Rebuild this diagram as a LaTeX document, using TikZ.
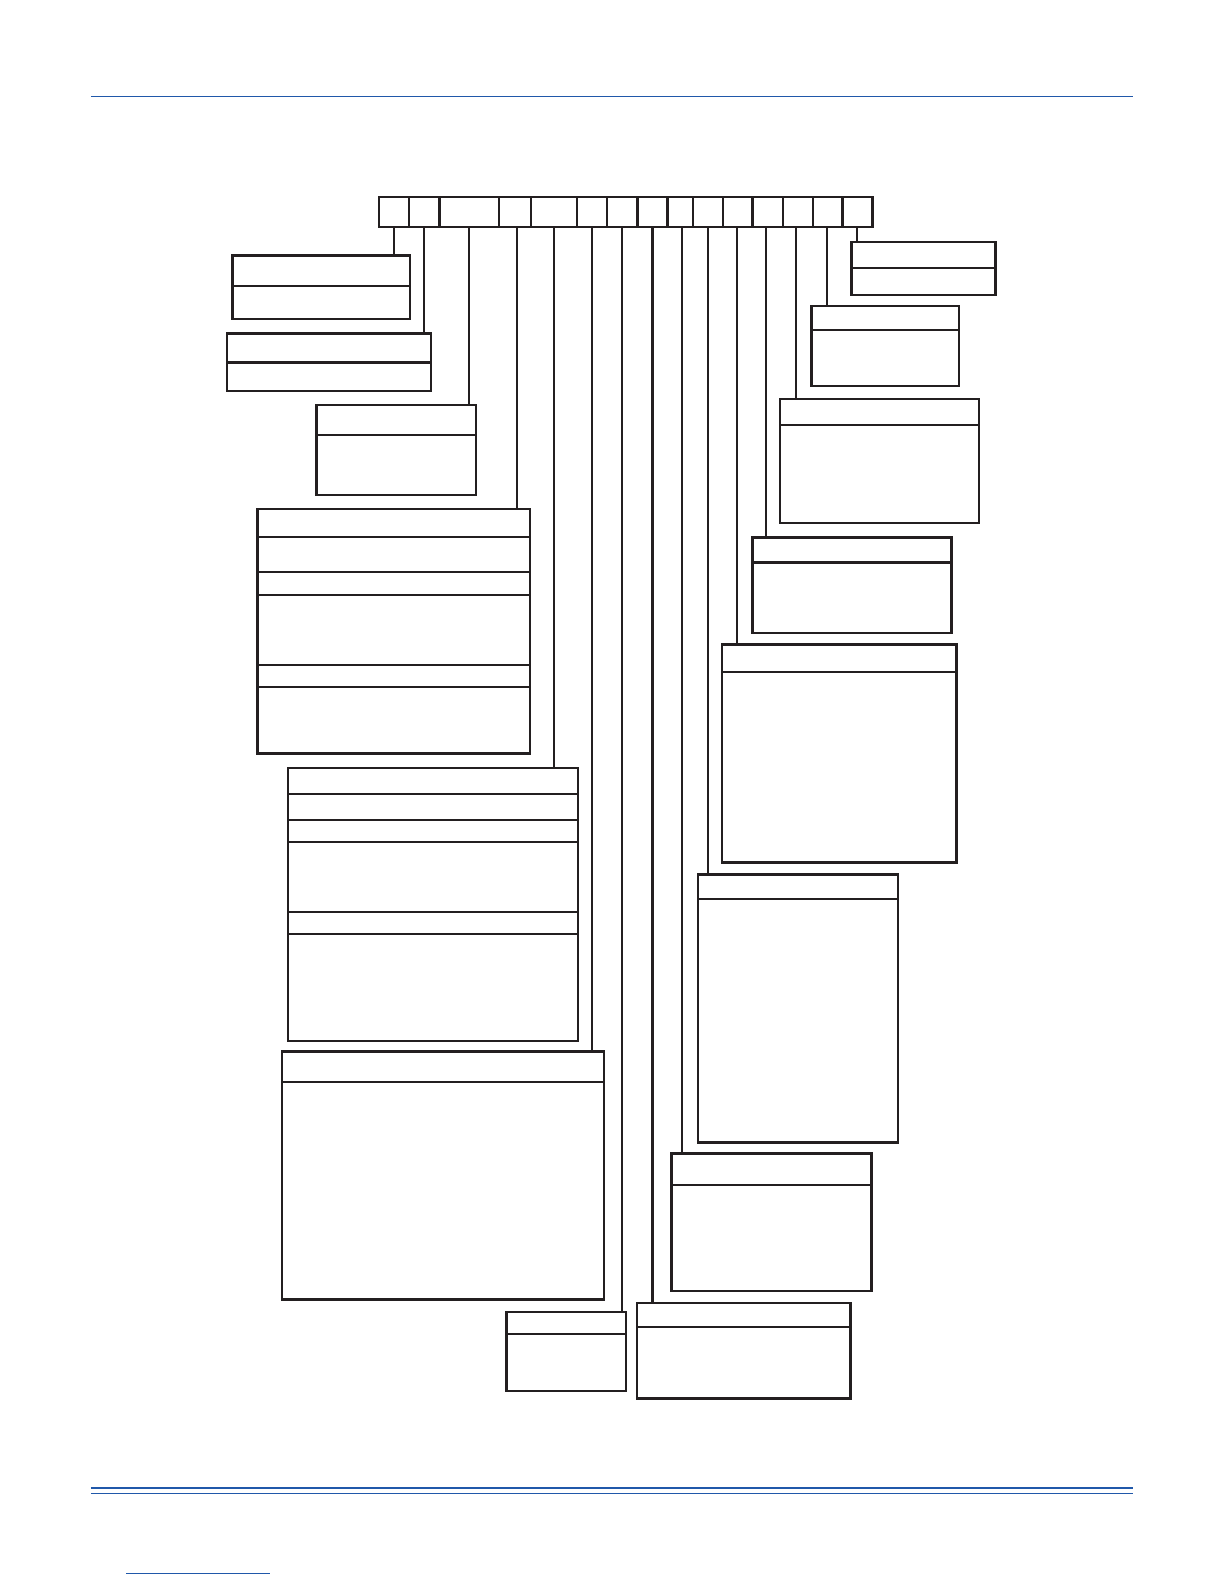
\documentclass[tikz,border=0pt]{standalone}
\usetikzlibrary{fit,calc}
\definecolor{ink}{RGB}{35,31,32}
\definecolor{rule}{RGB}{32,88,170}
\tikzset{
  boxst/.style={draw=ink, line width=2.4pt, inner sep=0pt, outer sep=0pt, fill=none},
  cellst/.style={draw=ink, line width=2.4pt, inner sep=0pt, outer sep=0pt},
  divst/.style={draw=ink, line width=2.2pt},
  conn/.style={draw=ink, line width=2.2pt},
  rulest/.style={draw=rule},
}
\newcommand\mkbox[5]{\node[boxst, fit={(#2,#3) (#4,#5)}] (#1) {};}
\newcommand\mkcell[3]{\node[cellst, fit={(#2,195) (#3,225)}] (#1) {};}
\newcommand\mkdiv[2]{\draw[divst] (#1.west |- 0,#2) -- (#1.east |- 0,#2);}
\newcommand\mkconn[3]{\draw[conn] ($(#1.south)+(#3,0)$) -- ($(#1.south |- #2.north)+(#3,0)$);}
\begin{document}
\begin{tikzpicture}[x=1.01pt, y=-1.01pt]
\useasboundingbox (0,0) rectangle (1211.88,1568.32);
% page rules
\coordinate (hl) at (90,95.5); \coordinate (hr) at (1122,95.5);
\draw[rulest, line width=1.2pt] (hl) -- (hr);
\coordinate (fl) at (90,1473); \coordinate (fr) at (1122,1473);
\draw[rulest, line width=2.4pt] (fl) -- (fr);
\coordinate (gl) at (90,1478.5); \coordinate (gr) at (1122,1478.5);
\draw[rulest, line width=1.1pt] (gl) -- (gr);
\coordinate (ul) at (125,1558); \coordinate (ur) at (267,1558);
\draw[rulest, line width=0.8pt] (ul) -- (ur);
% top strip cells
\mkcell{c1}{375}{405}
\mkcell{c2}{405}{435}
\mkcell{c3}{435}{494}
\mkcell{c4}{494}{526}
\mkcell{c5}{526}{571}
\mkcell{c6}{571}{601}
\mkcell{c7}{601}{631}
\mkcell{c8}{631}{661}
\mkcell{c9}{661}{686}
\mkcell{c10}{686}{716}
\mkcell{c11}{716}{745}
\mkcell{c12}{745}{775}
\mkcell{c13}{775}{805}
\mkcell{c14}{805}{834}
\mkcell{c15}{834}{864}
% boxes
\mkbox{bA}{230}{253}{406}{316}
\mkdiv{bA}{283}
\mkbox{bB}{225}{330}{427}{387}
\mkdiv{bB}{359}
\mkbox{bC}{313.5}{401}{471}{490}
\mkdiv{bC}{430.5}
\mkbox{bD}{255}{504}{525}{746}
\mkdiv{bD}{532}
\mkdiv{bD}{566.3}
\mkdiv{bD}{588.8}
\mkdiv{bD}{658.4}
\mkdiv{bD}{680.2}
\mkbox{bE}{285}{760.4}{572}{1030.4}
\mkdiv{bE}{786}
\mkdiv{bE}{811.5}
\mkdiv{bE}{833.7}
\mkdiv{bE}{902.6}
\mkdiv{bE}{924.8}
\mkbox{bF}{279}{1041}{598}{1286.5}
\mkdiv{bF}{1071}
\mkbox{bG}{501.6}{1299}{619.8}{1377}
\mkdiv{bG}{1320.5}
\mkbox{bH}{630.7}{1290}{842}{1384.8}
\mkdiv{bH}{1313.9}
\mkbox{bI}{665}{1142}{863}{1278}
\mkdiv{bI}{1173}
\mkbox{bJ}{691}{866}{889}{1131}
\mkdiv{bJ}{890}
\mkbox{bK}{715}{638}{947}{854}
\mkdiv{bK}{665}
\mkbox{bL}{745}{532}{942}{627}
\mkdiv{bL}{557}
\mkbox{bM}{772.3}{395}{969.3}{517.8}
\mkdiv{bM}{420.5}
\mkbox{bN}{803.6}{303}{949.5}{381.9}
\mkdiv{bN}{326.4}
\mkbox{bO}{843.2}{239.6}{985.5}{291.8}
\mkdiv{bO}{265.3}
% connectors
\mkconn{c1}{bA}{0}
\mkconn{c2}{bB}{0}
\mkconn{c3}{bC}{-0.5}
\mkconn{c4}{bD}{1.6}
\mkconn{c5}{bE}{0}
\mkconn{c6}{bF}{0}
\mkconn{c7}{bG}{0}
\mkconn{c8}{bH}{0}
\mkconn{c9}{bI}{1.7}
\mkconn{c10}{bJ}{0}
\mkconn{c11}{bK}{-0.8}
\mkconn{c12}{bL}{-1.5}
\mkconn{c13}{bM}{-2}
\mkconn{c14}{bN}{-0.8}
\mkconn{c15}{bO}{-0.7}
\end{tikzpicture}
\end{document}
